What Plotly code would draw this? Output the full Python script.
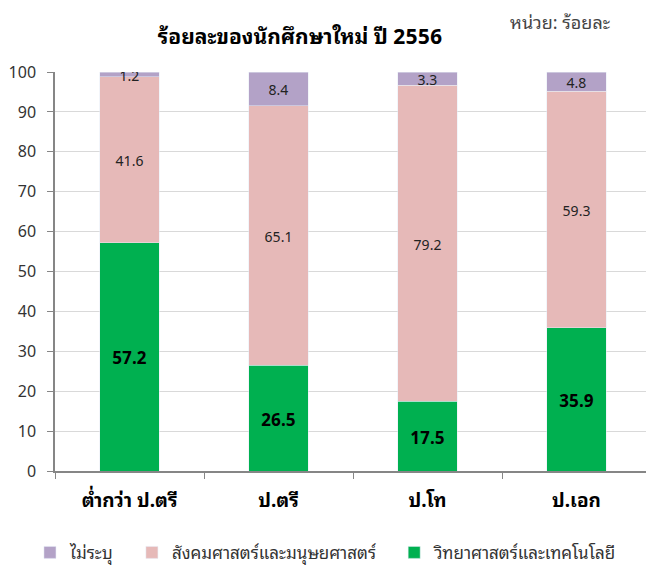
import plotly.graph_objects as go

categories = ["ต่ำกว่า ป.ตรี", "ป.ตรี", "ป.โท", "ป.เอก"]
science = [57.2, 26.5, 17.5, 35.9]
social = [41.6, 65.1, 79.2, 59.3]
unspecified = [1.2, 8.4, 3.3, 4.8]
series_names = ["ไม่ระบุ", "สังคมศาสตร์และมนุษยศาสตร์", "วิทยาศาสตร์และเทคโนโลยี"]

FONT = "Tahoma, 'Noto Sans Thai Looped', 'Noto Sans Thai', 'Noto Sans', sans-serif"
PAD = "\u00a0" * 3

fig = go.Figure()
fig.add_trace(go.Bar(
    name=series_names[2], x=categories, y=science,
    marker_color="#00B050", text=[f"{v:.1f}" for v in science],
    textposition="inside", insidetextanchor="middle", constraintext="none", textangle=0,
    textfont=dict(size=17, color="black", family=FONT, weight="bold"),
    legendrank=3,
))
fig.add_trace(go.Bar(
    name=series_names[1] + PAD, x=categories, y=social,
    marker_color="#E6B9B8", text=[f"{v:.1f}" for v in social],
    textposition="inside", insidetextanchor="middle", constraintext="none", textangle=0,
    textfont=dict(size=14, color="#222222", family=FONT),
    legendrank=2,
))
fig.add_trace(go.Bar(
    name=series_names[0] + PAD, x=categories, y=unspecified,
    marker_color="#B3A2C7", text=[f"{v:.1f}" for v in unspecified],
    textposition="inside", insidetextanchor="middle", constraintext="none", textangle=0,
    textfont=dict(size=14, color="#222222", family=FONT),
    legendrank=1,
))

fig.update_layout(
    barmode="stack",
    bargap=0.6,
    width=646, height=557,
    margin=dict(l=47, r=3, t=64, b=94, autoexpand=False),
    plot_bgcolor="white", paper_bgcolor="white",
    font=dict(family=FONT, size=14, color="#222222"),
    title=dict(text="<b>ร้อยละของนักศึกษาใหม่ ปี 2556</b>", x=0.452, xanchor="center",
               y=0.948, yanchor="middle", font=dict(size=21, color="black")),
    showlegend=True,
    legend=dict(orientation="h", x=-0.042, xanchor="left", y=-0.16, yanchor="top",
                font=dict(size=17, color="#333333"), traceorder="normal",
                itemwidth=30, bgcolor="rgba(0,0,0,0)"),
)
fig.update_yaxes(range=[0, 100], dtick=10, showgrid=True, gridcolor="#D9D9D9",
                 showline=True, linecolor="#868686", linewidth=1.5,
                 ticks="outside", tickcolor="#868686", ticklen=6,
                 ticklabelstandoff=8, automargin=False,
                 tickfont=dict(size=16, color="#333333"), zeroline=False)
fig.update_xaxes(showline=True, linecolor="#868686", linewidth=1.5,
                 ticks="outside", tickcolor="#868686", ticklen=6,
                 tickson="boundaries", ticklabelstandoff=11, automargin=False,
                 tickfont=dict(size=19, color="black", weight="bold"))
fig.add_annotation(text="หน่วย: ร้อยละ", xref="paper", yref="paper",
                   x=0.935, y=1.128, xanchor="right", yanchor="middle",
                   showarrow=False, font=dict(size=18, color="#444444"))

fig.write_html("out.html")
